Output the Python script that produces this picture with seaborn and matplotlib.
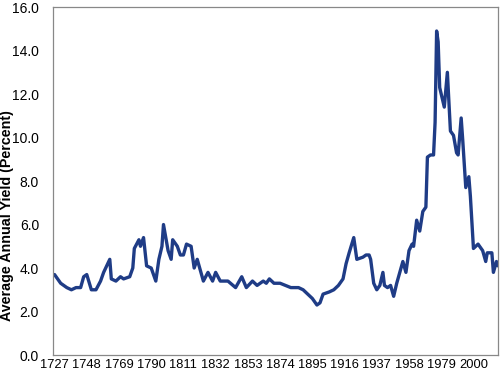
import numpy as np
import pandas as pd
import matplotlib
matplotlib.use("Agg")
import matplotlib.pyplot as plt
import seaborn as sns

# values
years = [1727, 1731, 1735, 1738, 1741, 1744, 1746, 1748, 1751, 1754,
         1757, 1759, 1763, 1764, 1767, 1770, 1772, 1776, 1778, 1779,
         1782, 1783, 1785, 1787, 1790, 1793, 1795, 1797, 1798, 1801,
         1803, 1804, 1807, 1809, 1811, 1813, 1816, 1818, 1820, 1822,
         1824, 1827, 1830, 1832, 1835, 1840, 1845, 1849, 1852, 1856,
         1859, 1863, 1865, 1867, 1870, 1874, 1881, 1886, 1889, 1892,
         1895, 1898, 1900, 1902, 1906, 1909, 1912, 1915, 1917, 1919,
         1922, 1924, 1928, 1930, 1932, 1933, 1935, 1937, 1939, 1941,
         1942, 1944, 1946, 1948, 1950, 1952, 1954, 1956, 1958, 1960,
         1961, 1963, 1965, 1967, 1969, 1970, 1972, 1974, 1975, 1976,
         1977, 1978, 1981, 1983, 1985, 1987, 1989, 1990, 1992, 1993,
         1995, 1997, 1998, 2000, 2003, 2006, 2008, 2009, 2012, 2013,
         2015, 2016]
yields = [3.7, 3.3, 3.1, 3.0, 3.1, 3.1, 3.6, 3.7, 3.0, 3.0,
          3.4, 3.8, 4.4, 3.5, 3.4, 3.6, 3.5, 3.6, 4.0, 4.9,
          5.3, 5.0, 5.4, 4.1, 4.0, 3.4, 4.4, 5.0, 6.0, 4.8,
          4.4, 5.3, 5.0, 4.6, 4.6, 5.1, 5.0, 4.0, 4.4, 3.9,
          3.4, 3.8, 3.4, 3.8, 3.4, 3.4, 3.1, 3.6, 3.1, 3.4,
          3.2, 3.4, 3.3, 3.5, 3.3, 3.3, 3.1, 3.1, 3.0, 2.8,
          2.6, 2.3, 2.4, 2.8, 2.9, 3.0, 3.2, 3.5, 4.2, 4.7,
          5.4, 4.4, 4.5, 4.6, 4.6, 4.4, 3.3, 3.0, 3.2, 3.8,
          3.2, 3.1, 3.2, 2.7, 3.3, 3.8, 4.3, 3.8, 4.8, 5.1,
          5.0, 6.2, 5.7, 6.6, 6.8, 9.1, 9.2, 9.2, 10.7, 14.9,
          14.4, 12.3, 11.4, 13.0, 10.3, 10.1, 9.3, 9.2, 10.9, 9.9,
          7.7, 8.2, 7.3, 4.9, 5.1, 4.8, 4.3, 4.7, 4.7, 3.8,
          4.3, 4.1]
tick_years = list(range(1727, 2001, 21))
y_ticks = np.arange(0, 17, 2)

df = pd.DataFrame({"Year": years, "Yield": yields})

sns.set_style("white")
plt.rcParams["font.family"] = ["Liberation Sans", "DejaVu Sans"]

fig = plt.figure(figsize=(5, 3.79), dpi=100)
ax = fig.add_axes([0.106, 0.0633, 0.89, 0.918])

sns.lineplot(data=df, x="Year", y="Yield", ax=ax, color="#1f3c86", linewidth=2.4)

ax.set_xlim(1726, 2016)
ax.set_ylim(0, 16)
ax.set_xticks(tick_years)
ax.set_xticklabels([str(t) for t in tick_years], fontsize=9.3, color="black")
ax.set_yticks(y_ticks)
ax.set_yticklabels([f"{v:.1f}" for v in y_ticks], fontsize=10, color="black")
ax.tick_params(axis="x", length=0, pad=3)
ax.tick_params(axis="y", length=4, width=0.8, color="#888888", direction="out", pad=6)
ax.set_xlabel("")
ax.set_ylabel("Average Annual Yield (Percent)", fontsize=10.3, fontweight="bold", color="black")
ax.yaxis.set_label_coords(-0.088, 0.40)
for side in ["left", "right", "top", "bottom"]:
    ax.spines[side].set_visible(True)
    ax.spines[side].set_color("#888888")
    ax.spines[side].set_linewidth(0.9)

fig.savefig("out.png", dpi=100)
